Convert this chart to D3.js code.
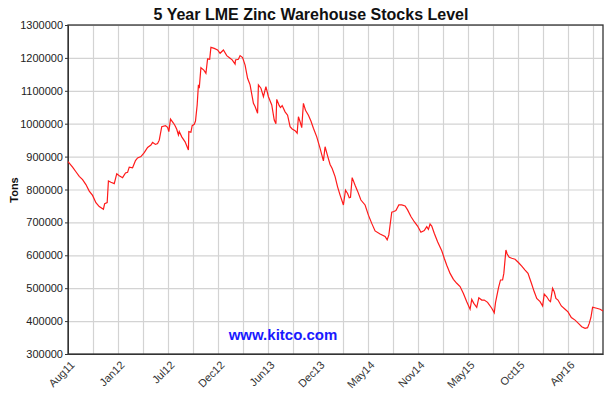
<!DOCTYPE html>
<html>
<head>
<meta charset="utf-8">
<script src="https://cdn.jsdelivr.net/npm/d3@7"></script>
<style>
  body { margin: 0; background: #fff; }
  svg { font-family: Arial, "Liberation Sans", sans-serif; }
</style>
</head>
<body>
<script>
'use strict';

// x axis labels, one every 120 trading days
var tickLabels = ["Aug11", "Jan12", "Jul12", "Dec12", "Jun13", "Dec13",
                  "May14", "Nov14", "May15", "Oct15", "Apr16"];
var labelStep = 120;
var gridStep = 60;
var lastDay = 1284;

// trading day index from Aug 2011
var days = [
   0,  11,  19,  27,  35,  43,  51,  59,  67,  75,  85,  88,  94,  97, 103, 111,
 117, 123, 131, 138, 143, 147, 155, 162, 167, 175, 183, 191, 199, 203, 210, 215,
 219, 225, 234, 239, 242, 246, 253, 257, 261, 265, 267, 273, 281, 289, 290, 295,
 298, 303, 306, 310, 313, 315, 319, 326, 331, 335, 340, 343, 351, 359, 365, 373,
 381, 389, 394, 401, 402, 409, 413, 419, 425, 431, 437, 445, 449, 455, 457, 463,
 469, 475, 481, 489, 495, 499, 501, 507, 510, 514, 521, 527, 533, 538, 545, 550,
 553, 557, 561, 565, 570, 577, 583, 589, 597, 605, 613, 617, 622, 629, 634, 641,
 647, 653, 661, 666, 671, 675, 678, 682, 689, 695, 703, 713, 721, 729, 737, 749,
 761, 766, 770, 777, 782, 787, 794, 801, 809, 815, 823, 831, 839, 847, 855, 861,
 865, 869, 873, 879, 887, 897, 903, 909, 917, 925, 933, 941, 949, 957, 965, 969,
 974, 981, 986, 993, 999,1007,1017,1023,1026,1033,1038,1043,1046,1051,1054,1059,
1065,1073,1081,1089,1097,1104,1112,1119,1125,1133,1139,1143,1149,1155,1158,1163,
1167,1171,1176,1184,1193,1200,1208,1217,1225,1233,1241,1247,1251,1255,1259,1269,
1277,1284
];

// warehouse stocks, tons
var stocks = [
 885000, 868000, 854000, 840000, 830000, 815000, 795000, 782000, 760000, 748000, 740000, 757000, 760000, 826000, 822000, 818000,
 848000, 842000, 836000, 850000, 852000, 868000, 866000, 888000, 896000, 900000, 912000, 928000, 935000, 943000, 937000, 940000,
 950000, 991000, 994000, 989000, 976000,1014000,1002000, 994000, 983000, 966000, 976000, 960000, 945000, 920000, 976000, 974000,
 994000, 998000,1008000,1057000,1118000,1108000,1170000,1163000,1153000,1197000,1196000,1232000,1229000,1224000,1214000,1224000,
1207000,1199000,1194000,1181000,1194000,1196000,1207000,1201000,1178000,1138000,1118000,1062000,1052000,1032000,1118000,1108000,
1082000,1113000,1082000,1057000,1011000,1000000,1074000,1055000,1049000,1055000,1036000,1026000, 991000, 984000, 979000, 971000,
1021000,1006000, 988000,1062000,1041000,1026000,1008000, 986000, 960000, 925000, 887000, 930000, 907000, 876000, 864000, 839000,
 808000, 783000, 753000, 798000, 788000, 775000, 776000, 836000, 813000, 795000, 768000, 753000, 722000, 697000, 674000, 665000,
 657000, 647000, 662000, 731000, 733000, 736000, 753000, 753000, 750000, 738000, 718000, 702000, 689000, 670000, 675000, 687000,
 679000, 695000, 689000, 667000, 641000, 614000, 591000, 570000, 545000, 527000, 515000, 505000, 484000, 459000, 436000, 466000,
 454000, 442000, 471000, 464000, 464000, 457000, 439000, 425000, 456000, 500000, 525000, 525000, 545000, 616000, 604000, 594000,
 591000, 588000, 578000, 567000, 555000, 545000, 516000, 489000, 469000, 459000, 446000, 482000, 474000, 462000, 459000, 500000,
 489000, 469000, 464000, 446000, 436000, 428000, 411000, 403000, 393000, 383000, 378000, 380000, 393000, 411000, 442000, 439000,
 436000, 431000
];

var yTicks = d3.range(300000, 1300001, 100000);

var margin = {top: 25, right: 10, bottom: 40, left: 68};
var width = 613 - margin.left - margin.right;
var height = 394 - margin.top - margin.bottom;

var svg = d3.select("body").append("svg")
   .attr("width", 613)
   .attr("height", 394);

var g = svg.append("g")
   .attr("transform", "translate(" + margin.left + "," + margin.top + ")");

var x = d3.scaleLinear().domain([0, lastDay]).range([0, width]);
var y = d3.scaleLinear().domain([300000, 1300000]).range([height, 0]);

// grid
var gridX = g.append("g")
   .attr("transform", "translate(0," + height + ")")
   .call(d3.axisBottom(x).tickValues(d3.range(gridStep, lastDay, gridStep)).tickSize(-height).tickFormat(""));
var gridY = g.append("g")
   .call(d3.axisLeft(y).tickValues(yTicks).tickSize(-width).tickFormat(""));
[gridX, gridY].forEach(function(gr){
   gr.select(".domain").remove();
   gr.selectAll("line").attr("stroke", "#d3d3d3").attr("stroke-width", 1.2);
});

// border box
g.append("rect")
   .attr("width", width)
   .attr("height", height)
   .attr("fill", "none")
   .attr("stroke", "#333")
   .attr("stroke-width", 1.3);

// axes
var yAxis = g.append("g")
   .call(d3.axisLeft(y).tickValues(yTicks).tickSize(3).tickPadding(2).tickFormat(d3.format("d")));
yAxis.select(".domain").attr("stroke", "#333");
yAxis.selectAll("line").attr("stroke", "#333");
yAxis.selectAll("text").attr("font-size", 11).attr("fill", "#222");

var xAxis = g.append("g")
   .attr("transform", "translate(0," + height + ")")
   .call(d3.axisBottom(x)
      .tickValues(d3.range(0, lastDay, labelStep))
      .tickSize(0)
      .tickFormat(function(d){ return tickLabels[d / labelStep]; }));
xAxis.select(".domain").attr("stroke", "#333");
xAxis.selectAll("text")
   .attr("font-size", 11)
   .attr("fill", "#333")
   .attr("text-anchor", "end")
   .attr("x", 0)
   .attr("y", 0)
   .attr("dy", "0.35em")
   .attr("transform", "translate(4,9) rotate(-45)");

// line
var lineFunction = d3.line()
   .x(function(d, i){ return x(days[i]); })
   .y(function(d){ return y(d); });

g.append("path")
   .attr("d", lineFunction(stocks))
   .attr("fill", "none")
   .attr("stroke", "#ff1a1a")
   .attr("stroke-width", 1.2);

// titles
svg.append("text")
   .attr("x", 311)
   .attr("y", 20)
   .attr("text-anchor", "middle")
   .attr("font-size", 16)
   .attr("font-weight", "bold")
   .attr("fill", "#111")
   .text("5 Year LME Zinc Warehouse Stocks Level");

svg.append("text")
   .attr("transform", "translate(18,190) rotate(-90)")
   .attr("text-anchor", "middle")
   .attr("font-size", 11)
   .attr("font-weight", "bold")
   .attr("fill", "#111")
   .text("Tons");

svg.append("text")
   .attr("x", 283)
   .attr("y", 340)
   .attr("text-anchor", "middle")
   .attr("font-size", 15)
   .attr("font-weight", "bold")
   .attr("fill", "#1a1aff")
   .text("www.kitco.com");
</script>
</body>
</html>
